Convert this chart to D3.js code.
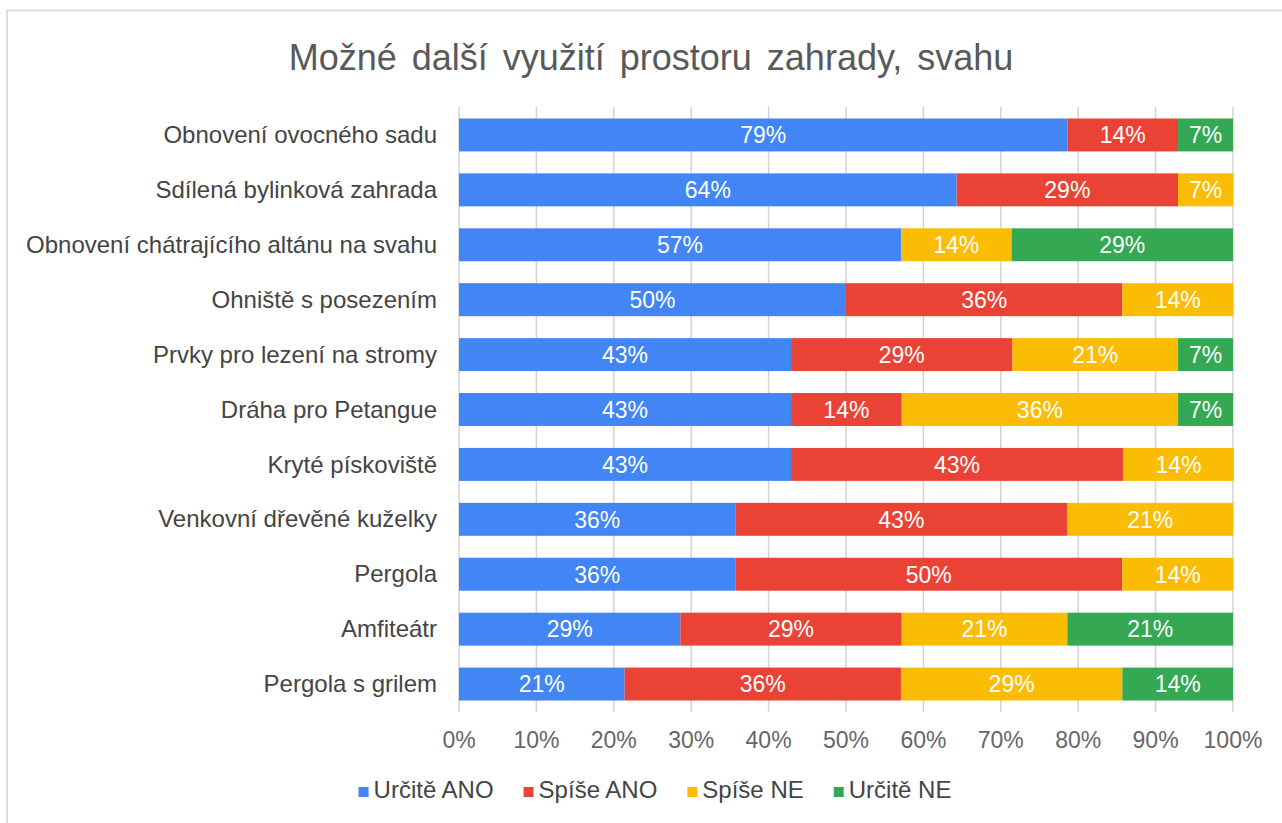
<!DOCTYPE html>
<html lang="cs">
<head>
    <meta charset="UTF-8">
    <title>Možné další využití prostoru zahrady, svahu</title>
    <script src="https://cdnjs.cloudflare.com/ajax/libs/d3/7.8.5/d3.min.js"></script>
    <style>
        body { margin: 0; background: #fff; }
        svg { display: block; font-family: "Liberation Sans", Arial, sans-serif; }
    </style>
</head>
<body>
    <svg id="chart" width="1282" height="823"></svg>

    <script>
        // Data (share of answers in %, 14 respondents)
        const categories = [
            "Obnovení ovocného sadu",
            "Sdílená bylinková zahrada",
            "Obnovení chátrajícího altánu na svahu",
            "Ohniště s posezením",
            "Prvky pro lezení na stromy",
            "Dráha pro Petangue",
            "Kryté pískoviště",
            "Venkovní dřevěné kuželky",
            "Pergola",
            "Amfiteátr",
            "Pergola s grilem"
        ];
        const seriesNames = ["Určitě ANO", "Spíše ANO", "Spíše NE", "Určitě NE"];
        const urciteAno = [78.6, 64.3, 57.1, 50.0, 42.9, 42.9, 42.9, 35.7, 35.7, 28.6, 21.4];
        const spiseAno  = [14.3, 28.6,  0.0, 35.7, 28.6, 14.3, 42.9, 42.9, 50.0, 28.6, 35.7];
        const spiseNe   = [ 0.0,  7.1, 14.3, 14.3, 21.4, 35.7, 14.3, 21.4, 14.3, 21.4, 28.6];
        const urciteNe  = [ 7.1,  0.0, 28.6,  0.0,  7.1,  7.1,  0.0,  0.0,  0.0, 21.4, 14.3];
        const xTicks = [0, 10, 20, 30, 40, 50, 60, 70, 80, 90, 100];
        const colors = ["#4285f4", "#ea4335", "#fbbc04", "#34a853"];

        const svg = d3.select("#chart");

        // frame (top and left edges only are visible)
        svg.append("path")
            .attr("d", "M7,823V10.5H1282")
            .attr("fill", "none")
            .attr("stroke", "#dcdcdc")
            .attr("stroke-width", 2);

        // title
        svg.append("text")
            .attr("x", 651)
            .attr("y", 70)
            .attr("text-anchor", "middle")
            .attr("fill", "#595959")
            .attr("font-size", 36)
            .attr("word-spacing", 5)
            .text("Možné další využití prostoru zahrady, svahu");

        const x = d3.scaleLinear().domain([0, 100]).range([459, 1233]);
        const y = d3.scaleBand().domain(categories).range([107.5, 711.5]).paddingInner(0.4).paddingOuter(0.2);

        // vertical gridlines
        svg.append("g")
            .selectAll("line")
            .data(xTicks)
            .join("line")
            .attr("x1", d => x(d)).attr("x2", d => x(d))
            .attr("y1", 107).attr("y2", 712)
            .attr("stroke", "#d3d3d3")
            .attr("stroke-width", 1.5);

        // stack the series
        const rows = categories.map((c, i) => ({
            cat: c,
            "Určitě ANO": urciteAno[i],
            "Spíše ANO": spiseAno[i],
            "Spíše NE": spiseNe[i],
            "Určitě NE": urciteNe[i]
        }));
        const stacked = d3.stack().keys(seriesNames)(rows);

        const layers = svg.append("g")
            .selectAll("g")
            .data(stacked)
            .join("g")
            .attr("fill", (d, i) => colors[i]);

        layers.selectAll("rect")
            .data(d => d.filter(s => s[1] - s[0] > 0))
            .join("rect")
            .attr("x", d => x(d[0]))
            .attr("width", d => x(d[1]) - x(d[0]))
            .attr("y", d => y(d.data.cat))
            .attr("height", y.bandwidth());

        // value labels inside the segments
        layers.selectAll("text")
            .data(d => d.filter(s => s[1] - s[0] > 0))
            .join("text")
            .attr("x", d => (x(d[0]) + x(d[1])) / 2)
            .attr("y", d => y(d.data.cat) + y.bandwidth() / 2)
            .attr("dy", "0.36em")
            .attr("text-anchor", "middle")
            .attr("fill", "#fff")
            .attr("font-size", 23)
            .text(d => Math.round(d[1] - d[0]) + "%");

        // category labels
        svg.append("g")
            .selectAll("text")
            .data(categories)
            .join("text")
            .attr("x", 437)
            .attr("y", d => y(d) + y.bandwidth() / 2)
            .attr("dy", "0.34em")
            .attr("text-anchor", "end")
            .attr("fill", "#444")
            .attr("font-size", 24)
            .text(d => d);

        // x axis tick labels
        svg.append("g")
            .selectAll("text")
            .data(xTicks)
            .join("text")
            .attr("x", d => x(d))
            .attr("y", 748)
            .attr("text-anchor", "middle")
            .attr("fill", "#666")
            .attr("font-size", 23)
            .text(d => d + "%");

        // legend, centred under the plot
        const legend = svg.append("g");
        const items = legend.selectAll("g")
            .data(seriesNames)
            .join("g");
        items.append("rect")
            .attr("width", 10).attr("height", 10)
            .attr("y", 787)
            .attr("fill", (d, i) => colors[i]);
        items.append("text")
            .attr("x", 15)
            .attr("y", 798)
            .attr("fill", "#444")
            .attr("font-size", 24)
            .text(d => d);

        let offset = 0;
        const widths = [];
        items.each(function () {
            const w = 15 + d3.select(this).select("text").node().getComputedTextLength();
            widths.push(w);
        });
        const total = d3.sum(widths) + 30 * (widths.length - 1);
        let start = 655 - total / 2;
        items.attr("transform", (d, i) => {
            const t = `translate(${start + offset},0)`;
            offset += widths[i] + 30;
            return t;
        });
    </script>
</body>
</html>
